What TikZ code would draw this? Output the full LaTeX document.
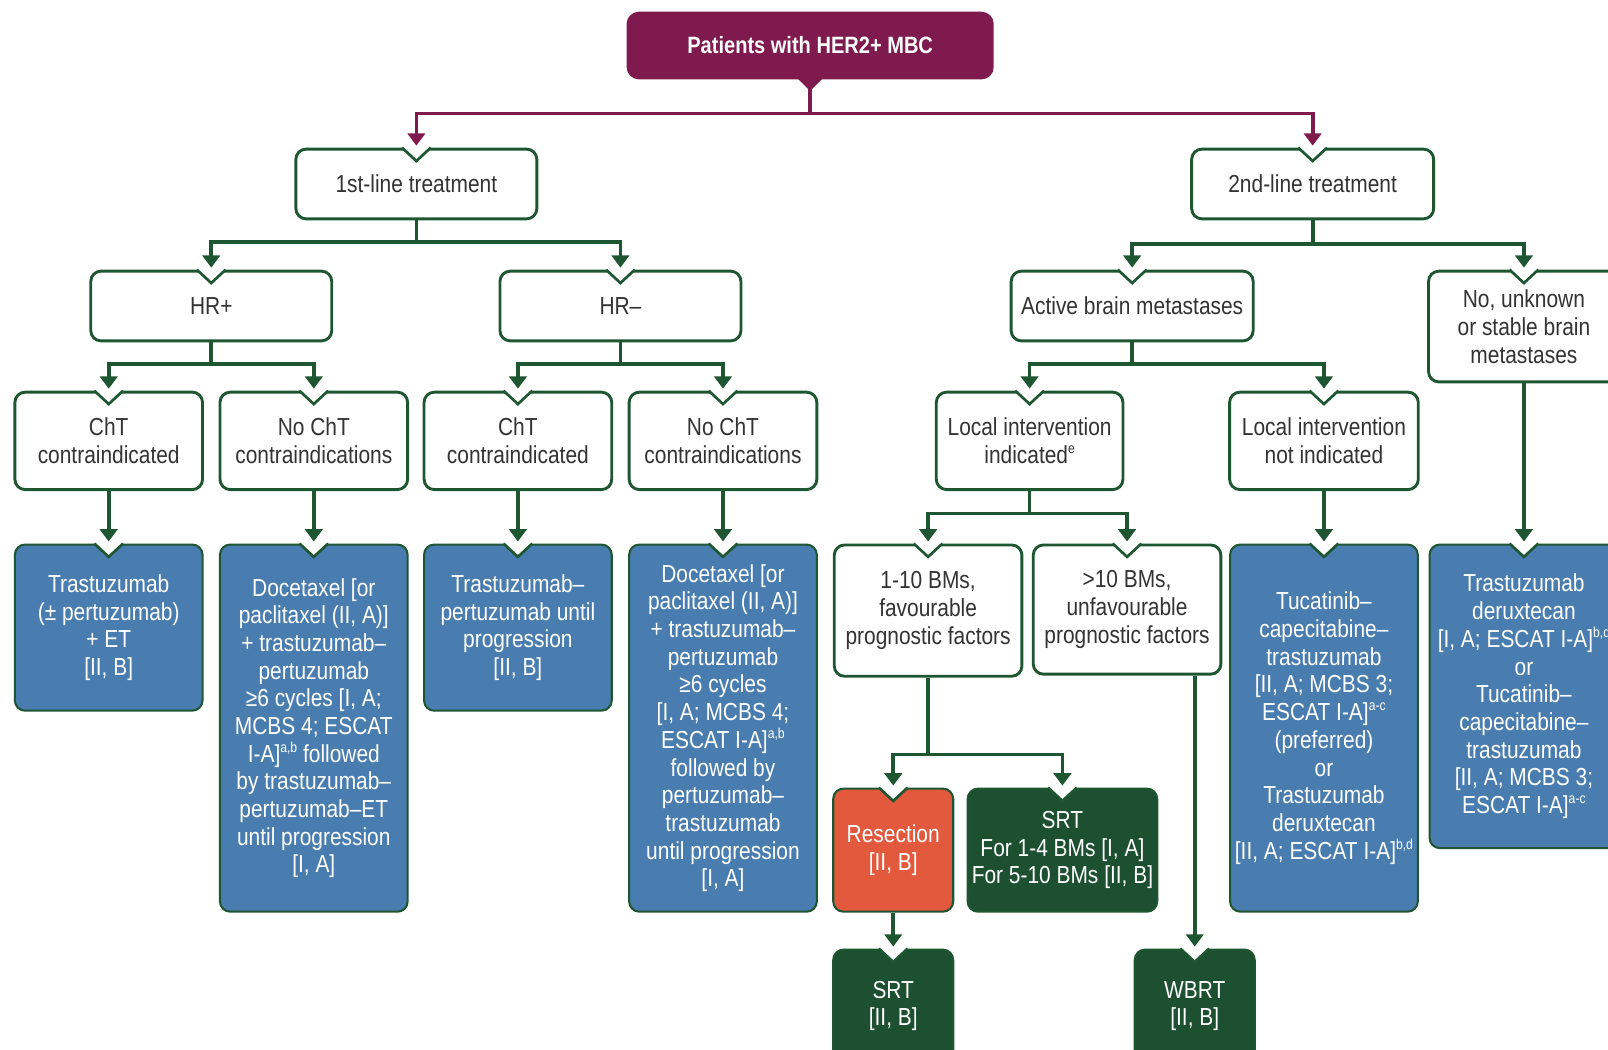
\documentclass[tikz,border=0pt]{standalone}
\usepackage{fontspec}
\setmainfont{Liberation Sans}[FakeStretch=0.85]
\usetikzlibrary{arrows.meta,calc}

\definecolor{maroon}{HTML}{7E1A4E}
\definecolor{dkgreen}{HTML}{1E5632}
\definecolor{stblue}{HTML}{4A7DAF}
\definecolor{resred}{HTML}{E3593D}
\definecolor{srtgreen}{HTML}{1C5030}
\definecolor{txtgray}{HTML}{333333}
\newcommand{\sups}[1]{\raisebox{0.75ex}{\fontsize{7}{7}\selectfont #1}}

\begin{document}
\begin{tikzpicture}[x=0.5pt,y=0.5pt,
  every node/.style={font=\fontsize{12}{13.5}\selectfont, align=center, anchor=north, inner sep=2pt},
  qbox/.style={draw=dkgreen, line width=1.4pt, rounded corners=5pt, fill=white, text=txtgray},
  tbox/.style={draw=dkgreen, line width=1pt, rounded corners=5pt, fill=stblue, text=white},
  rbox/.style={tbox, fill=resred},
  gbox/.style={tbox, fill=srtgreen},
  sz/.style 2 args={minimum width=#1*0.5pt, minimum height=#2*0.5pt},
  link/.style={draw=dkgreen, line width=1.8pt, -{Triangle[width=8.5pt,length=6pt]}, shorten >=1pt},
  mlink/.style={link, draw=maroon}]
\useasboundingbox (0,0) rectangle (1568,-1023);
\clip (0,0) rectangle (1568,-1023);

% top
\node[fill=maroon, rounded corners=6pt, text=white, font=\bfseries\fontsize{11.5}{13.5}\selectfont, sz={358}{66}] (root) at (790,-11) {Patients with HER2+ MBC};
\fill[maroon] ($(root.south)+(-12,1)$) -- ($(root.south)+(12,1)$) -- ($(root.south)+(0,-11)$) -- cycle;

\node[qbox, sz={235}{68}] (first) at (406,-144) {1st-line treatment};
\node[qbox, sz={236}{68}] (second) at (1280,-144) {2nd-line treatment};

% 1st line
\node[qbox, sz={235}{68}] (hrpos) at (206,-263) {HR+};
\node[qbox, sz={235}{68}] (hrneg) at (605,-263) {HR--};
\node[qbox, sz={183}{95}] (cht1) at (106,-381) {ChT\\contraindicated};
\node[qbox, sz={183}{95}] (nocht1) at (306,-381) {No ChT\\contraindications};
\node[qbox, sz={183}{95}] (cht2) at (505,-381) {ChT\\contraindicated};
\node[qbox, sz={183}{95}] (nocht2) at (705,-381) {No ChT\\contraindications};

\node[tbox, sz={183}{162}] (tr1) at (106,-530) {Trastuzumab\\(± pertuzumab)\\+ ET\\{}[II, B]};
\node[tbox, sz={183}{358}] (doc1) at (306,-530) {Docetaxel [or\\paclitaxel (II, A)]\\+ trastuzumab–\\pertuzumab\\≥6 cycles [I, A;\\MCBS 4; ESCAT\\I-A]\sups{a,b} followed\\by trastuzumab–\\pertuzumab–ET\\until progression\\{}[I, A]};
\node[tbox, sz={183}{162}] (tr2) at (505,-530) {Trastuzumab–\\pertuzumab until\\progression\\{}[II, B]};
\node[tbox, sz={183}{358}] (doc2) at (705,-530) {Docetaxel [or\\paclitaxel (II, A)]\\+ trastuzumab–\\pertuzumab\\≥6 cycles\\{}[I, A; MCBS 4;\\ESCAT I-A]\sups{a,b}\\followed by\\pertuzumab–\\trastuzumab\\until progression\\{}[I, A]};

% 2nd line
\node[qbox, sz={236}{68}] (active) at (1104,-263) {Active brain metastases};
\node[qbox, sz={186}{108}] (stable) at (1486,-263) {No, unknown\\or stable brain\\metastases};
\node[qbox, sz={182}{95}] (locyes) at (1004,-381) {Local intervention\\indicated\sups{e}};
\node[qbox, sz={184}{95}] (locno) at (1291,-381) {Local intervention\\not indicated};

\node[qbox, sz={183}{128}] (bmfew) at (905,-530) {1-10 BMs,\\favourable\\prognostic factors};
\node[qbox, sz={183}{126}] (bmmany) at (1099,-530) {>10 BMs,\\unfavourable\\prognostic factors};
\node[tbox, sz={183}{358}] (tuca) at (1291,-530) {Tucatinib–\\capecitabine–\\trastuzumab\\{}[II, A; MCBS 3;\\ESCAT I-A]\sups{a-c}\\(preferred)\\or\\Trastuzumab\\deruxtecan\\{}[II, A; ESCAT I-A]\sups{b,d}};
\node[tbox, sz={184}{296}] (tdxd) at (1486,-530) {Trastuzumab\\deruxtecan\\{}[I, A; ESCAT I-A]\sups{b,d}\\or\\Tucatinib–\\capecitabine–\\trastuzumab\\{}[II, A; MCBS 3;\\ESCAT I-A]\sups{a-c}};

\node[rbox, sz={117}{120}] (resec) at (871,-768) {Resection\\{}[II, B]};
\node[gbox, sz={184}{120}] (srt) at (1036,-768) {SRT\\For 1-4 BMs [I, A]\\For 5-10 BMs [II, B]};
\node[gbox, sz={117}{110}] (srtb) at (871,-925) {SRT\\{}[II, B]};
\node[gbox, sz={117}{110}] (wbrt) at (1165,-925) {WBRT\\{}[II, B]};

% notches
\foreach \n in {first,second,hrpos,hrneg,cht1,nocht1,cht2,nocht2,tr1,doc1,tr2,doc2,
    active,stable,locyes,locno,bmfew,bmmany,tuca,tdxd,resec,srt,srtb,wbrt} {
  \fill[white] ($(\n.north)+(-15,2)$) -- ($(\n.north)+(15,2)$) -- ($(\n.north)+(0,-13)$) -- cycle;
  \draw[dkgreen, line width=1.3pt] ($(\n.north)+(-14,0)$) -- ($(\n.north)+(0,-13)$) -- ($(\n.north)+(14,0)$);
}

% connectors
\draw[mlink] (root.south) -- ++(0,-33) -| (first.north);
\draw[mlink] (root.south) -- ++(0,-33) -| (second.north);
\draw[link] (first.south) -- ++(0,-21) -| (hrpos.north);
\draw[link] (first.south) -- ++(0,-21) -| (hrneg.north);
\draw[link] (hrpos.south) -- ++(0,-21) -| (cht1.north);
\draw[link] (hrpos.south) -- ++(0,-21) -| (nocht1.north);
\draw[link] (hrneg.south) -- ++(0,-21) -| (cht2.north);
\draw[link] (hrneg.south) -- ++(0,-21) -| (nocht2.north);
\draw[link] (cht1.south) -- (tr1.north);
\draw[link] (nocht1.south) -- (doc1.north);
\draw[link] (cht2.south) -- (tr2.north);
\draw[link] (nocht2.south) -- (doc2.north);
\draw[link] (second.south) -- ++(0,-23) -| (active.north);
\draw[link] (second.south) -- ++(0,-23) -| (stable.north);
\draw[link] (active.south) -- ++(0,-21) -| (locyes.north);
\draw[link] (active.south) -- ++(0,-21) -| (locno.north);
\draw[link] (locyes.south) -- ++(0,-22) -| (bmfew.north);
\draw[link] (locyes.south) -- ++(0,-22) -| (bmmany.north);
\draw[link] (locno.south) -- (tuca.north);
\draw[link] (stable.south) -- (tdxd.north);
\draw[link] (bmfew.south) -- ++(0,-75) -| (resec.north);
\draw[link] (bmfew.south) -- ++(0,-75) -| (srt.north);
\draw[link] (resec.south) -- (srtb.north);
\draw[link] (wbrt.north |- bmmany.south) -- (wbrt.north);
\end{tikzpicture}
\end{document}
